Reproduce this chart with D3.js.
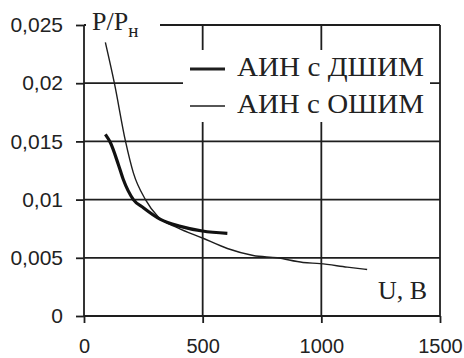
<!DOCTYPE html>
<html>
<head>
<meta charset="utf-8">
<script src="https://cdn.jsdelivr.net/npm/d3@7"></script>
<style>
  body { margin: 0; background: #fff; }
  svg { display: block; }
</style>
</head>
<body>
<div id="chart"></div>
<script>
// data
const xTicks = [0, 500, 1000, 1500];
const xTickLabels = ["0", "500", "1000", "1500"];
const yTicks = [0, 0.005, 0.01, 0.015, 0.02, 0.025];
const yTickLabels = ["0", "0,005", "0,01", "0,015", "0,02", "0,025"];

const dshimU = [90, 111, 145, 166, 208, 250, 322, 406, 499, 604];
const dshimP = [0.0156, 0.0149, 0.0130, 0.0117, 0.0100, 0.0093, 0.0083, 0.0077, 0.0073, 0.0071];

const oshimU = [90, 128, 175, 208, 259, 313, 393, 499, 604, 713, 814, 923, 995, 1109, 1193];
const oshimP = [0.0235, 0.0200, 0.0150, 0.0123, 0.0100, 0.0085, 0.0076, 0.0067, 0.0058,
                0.0052, 0.0050, 0.0046, 0.0045, 0.0042, 0.0040];

const seriesNames = ["АИН с ДШИМ", "АИН с ОШИМ"];
const yTitle = "P/P";
const yTitleSub = "н";
const xTitle = "U, B";

const width = 464, height = 358;
const margin = { top: 25, right: 24, bottom: 42, left: 84 };

const svg = d3.select("#chart").append("svg")
  .attr("width", width)
  .attr("height", height);

const x = d3.scaleLinear().domain([0, 1500]).range([margin.left, width - margin.right]);
const y = d3.scaleLinear().domain([0, 0.025]).range([height - margin.bottom, margin.top]);

const ink = "#1e1e1e";
const sans = "'Liberation Sans', Arial, sans-serif";
const serif = "'Liberation Serif', 'Times New Roman', serif";

// grid
const grid = svg.append("g").attr("stroke", ink).attr("stroke-width", 1.8);
grid.selectAll(".h").data(yTicks).join("line")
  .attr("x1", x(0)).attr("x2", x(1500))
  .attr("y1", d => y(d)).attr("y2", d => y(d));
grid.selectAll(".v").data(xTicks).join("line")
  .attr("x1", d => x(d)).attr("x2", d => x(d))
  .attr("y1", y(0)).attr("y2", y(0.025));

// axes (ticks + labels)
const yAxis = svg.append("g")
  .attr("transform", `translate(${x(0)},0)`)
  .call(d3.axisLeft(y).tickValues(yTicks)
    .tickFormat((d, i) => yTickLabels[i]).tickSize(8).tickPadding(13));
const xAxis = svg.append("g")
  .attr("transform", `translate(0,${y(0)})`)
  .call(d3.axisBottom(x).tickValues(xTicks)
    .tickFormat((d, i) => xTickLabels[i]).tickSize(7).tickPadding(16));
[yAxis, xAxis].forEach(a => {
  a.select(".domain").remove();
  a.selectAll("line").attr("stroke", ink).attr("stroke-width", 1.8);
  a.selectAll("text").attr("fill", "#222")
    .style("font-family", sans).style("font-size", "21px");
});
xAxis.selectAll("text").style("font-size", "20px");

// white areas behind title and legend
svg.append("rect").attr("x", x(0) + 2).attr("y", 8).attr("width", 74).attr("height", 34).attr("fill", "#fff");
svg.append("rect").attr("x", 183).attr("y", 50).attr("width", 247).attr("height", 72).attr("fill", "#fff");

// curves
const line = d3.line().curve(d3.curveMonotoneX);
svg.append("path")
  .attr("d", line(oshimU.map((u, i) => [x(u), y(oshimP[i])])))
  .attr("fill", "none").attr("stroke", ink).attr("stroke-width", 1.4);
svg.append("path")
  .attr("d", line(dshimU.map((u, i) => [x(u), y(dshimP[i])])))
  .attr("fill", "none").attr("stroke", "#111").attr("stroke-width", 3.2);

// legend
const legend = svg.append("g");
const legendRows = [{ y: 69, w: 3.2 }, { y: 106, w: 1.4 }];
legendRows.forEach((r, i) => {
  legend.append("line")
    .attr("x1", 190).attr("x2", 225).attr("y1", r.y).attr("y2", r.y)
    .attr("stroke", ink).attr("stroke-width", r.w);
  legend.append("text")
    .attr("x", 237).attr("y", r.y + 7)
    .attr("textLength", 187).attr("lengthAdjust", "spacingAndGlyphs")
    .style("font-family", serif).style("font-size", "27px").attr("fill", "#222")
    .text(seriesNames[i]);
});

// titles
const yt = svg.append("text").attr("x", 92).attr("y", 30)
  .style("font-family", serif).style("font-size", "26px").attr("fill", "#222");
yt.append("tspan").text(yTitle);
yt.append("tspan").attr("dy", 7).style("font-size", "19px").text(yTitleSub);

svg.append("text").attr("x", 378).attr("y", 299)
  .style("font-family", serif).style("font-size", "26px").attr("fill", "#222")
  .text(xTitle);
</script>
</body>
</html>
